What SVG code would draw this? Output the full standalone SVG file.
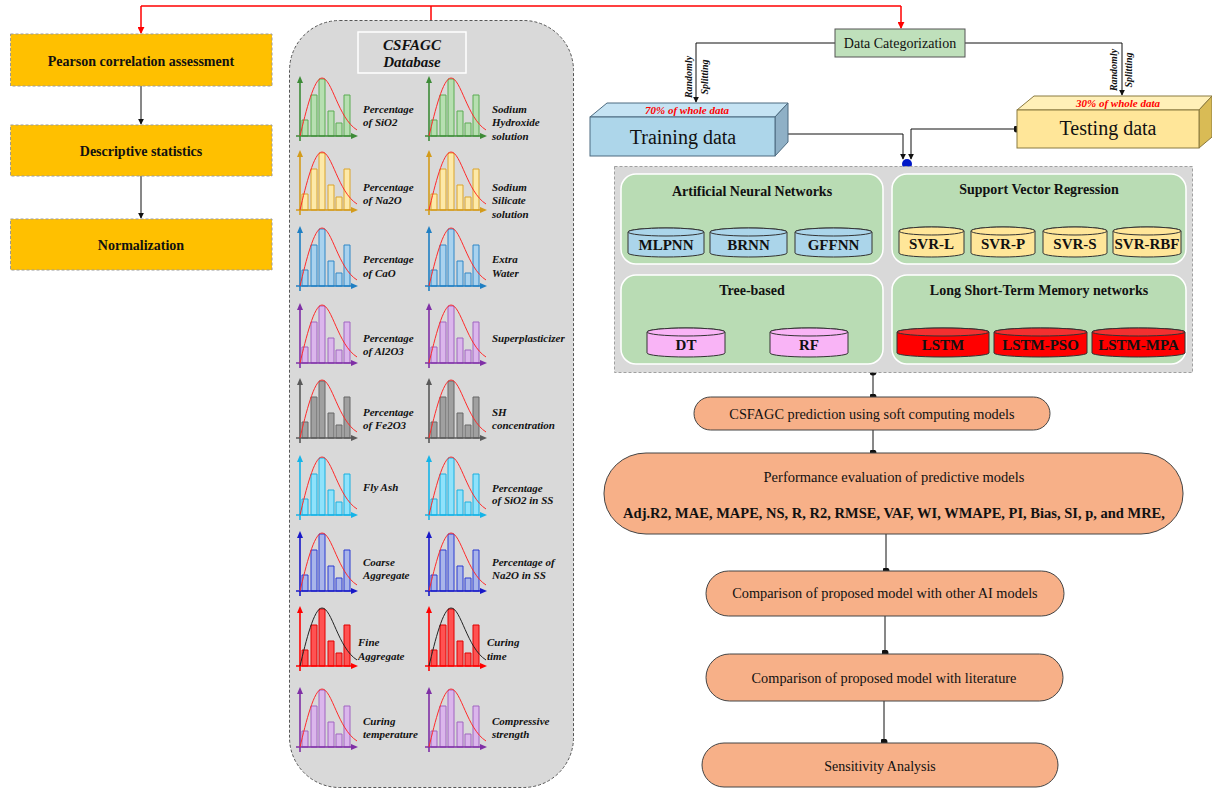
<svg xmlns="http://www.w3.org/2000/svg" xmlns:xlink="http://www.w3.org/1999/xlink" width="1212" height="789" viewBox="0 0 1212 789">
<style>
text{font-family:"Liberation Serif","Times New Roman",serif;fill:#111}
.lbl{font-size:11px;font-weight:bold;font-style:italic}
.bx{fill:#FFC000;stroke:#9a9a9a;stroke-width:1;stroke-dasharray:3,2}
.bxt{font-size:14px;font-weight:bold;text-anchor:middle}
.bars{fill:var(--bf);stroke:var(--bs);stroke-width:1}
.ax{fill:none;stroke:var(--ax);stroke-width:1.6}
.axh{fill:var(--ax)}
.cv{fill:none;stroke:var(--cv,#ff2a2a);stroke-width:1}
.c1{--ax:#3d8b37;--bf:#b7dfb1;--bs:#5aab52}
.c2{--ax:#d39b1b;--bf:#fde9a8;--bs:#dba42a}
.c3{--ax:#1f7fc3;--bf:#a9d2ee;--bs:#2f86c6}
.c4{--ax:#7f2fa6;--bf:#dbb6ec;--bs:#a064c0}
.c5{--ax:#595959;--bf:#a0a0a0;--bs:#666666}
.c6{--ax:#14b4e8;--bf:#8fe2fb;--bs:#18b0e0}
.c7{--ax:#1818c8;--bf:#a9b5ea;--bs:#2a3ad0}
.c8{--ax:#ff0000;--bf:#ff5252;--bs:#e00000;--cv:#222222}
.grp{fill:#b9dcb4;stroke:#ffffff;stroke-width:1.5}
.gt{font-size:14px;font-weight:bold;text-anchor:middle}
.cyl{stroke:#333;stroke-width:1}
.ct{font-size:15px;font-weight:bold;text-anchor:middle}
.pill{fill:#f7b088;stroke:#444;stroke-width:1}
.pt{font-size:14.3px;text-anchor:middle}
.con{fill:none;stroke:#111;stroke-width:1}
.red{fill:none;stroke:#ff0000;stroke-width:1.5}
.rs{font-size:10px;font-weight:bold;font-style:italic;text-anchor:middle}
.pct{font-size:11px;font-weight:bold;font-style:italic;fill:#ff0000;text-anchor:middle}
</style>
<defs>
<marker id="arr" viewBox="0 0 8 8" refX="7" refY="4" markerWidth="6" markerHeight="6" orient="auto" markerUnits="userSpaceOnUse"><path d="M0,0L8,4L0,8Z" fill="#111"/></marker>
<marker id="arrR" viewBox="0 0 8 8" refX="7" refY="4" markerWidth="7" markerHeight="7" orient="auto" markerUnits="userSpaceOnUse"><path d="M0,0L8,4L0,8Z" fill="#ff0000"/></marker>
<marker id="dot" viewBox="0 0 8 8" refX="4" refY="4" markerWidth="7" markerHeight="7" markerUnits="userSpaceOnUse"><circle cx="4" cy="4" r="4" fill="#111"/></marker>
<g id="chart">
<path class="bars" d="M2,0V-16H8V0Z M11,0V-41H17V0Z M19,0V-57H25V0Z M28,0V-25H34V0Z M36,0V-13H42V0Z M44,0V-41H50V0Z"/>
<path class="ax" d="M0,5V-55 M-4,0H54"/>
<polygon class="axh" points="0,-60 -3,-53 3,-53"/>
<polygon class="axh" points="58,0 51,-3 51,3"/>
<path class="cv" d="M0,0 C6,-25 14,-58 22,-58 C32,-58 38,-18 57,-6"/>
</g>
</defs>
<rect width="1212" height="789" fill="#ffffff"/>

<g id="connectors">
<path class="red" d="M141,6 H901"/>
<path class="red" d="M141,6 V33" marker-end="url(#arrR)"/>
<path class="red" d="M901,6 V28" marker-end="url(#arrR)"/>
<path class="red" d="M431,6 V20"/>
<path class="con" d="M141,86 V124" marker-end="url(#arr)"/>
<path class="con" d="M141,176 V218" marker-end="url(#arr)"/>
<path class="con" d="M835,43 H696 V102" marker-end="url(#arr)"/>
<path class="con" d="M965,43 H1122 V95" marker-end="url(#arr)"/>
<path class="con" d="M775,134 H903 V159" marker-start="url(#dot)" marker-end="url(#arr)"/>
<path class="con" d="M1017,129 H911 V159" marker-start="url(#dot)" marker-end="url(#arr)"/>
<circle cx="907" cy="164" r="5" fill="#0018c8"/>
<path class="con" d="M873,372 V397" marker-start="url(#dot)" marker-end="url(#dot)"/>
<path class="con" d="M873,430 V453" marker-end="url(#dot)"/>
<path class="con" d="M886,534 V571" marker-end="url(#dot)"/>
<path class="con" d="M885,616 V653" marker-end="url(#dot)"/>
<path class="con" d="M884,701 V742" marker-end="url(#dot)"/>
</g>

<g id="pearson"><rect class="bx" x="10.5" y="34" width="261.5" height="52"/><text class="bxt" x="141" y="66">Pearson correlation assessment</text></g>
<g id="descriptive"><rect class="bx" x="10.5" y="125" width="261.5" height="51"/><text class="bxt" x="141" y="156">Descriptive statistics</text></g>
<g id="normalization"><rect class="bx" x="10.5" y="219" width="261.5" height="51"/><text class="bxt" x="141" y="250">Normalization</text></g>

<g id="database">
<rect x="289.5" y="20.5" width="284" height="767" rx="50" ry="50" fill="#d9d9d9" stroke="#555" stroke-width="1" stroke-dasharray="3,2"/>
<rect x="358" y="32" width="108" height="41" fill="none" stroke="#ffffff" stroke-width="1.5"/>
<text x="412" y="50" font-size="15" font-weight="bold" font-style="italic" text-anchor="middle">CSFAGC</text>
<text x="412" y="67" font-size="15" font-weight="bold" font-style="italic" text-anchor="middle">Database</text>
</g>

<g id="chart-sio2"><use href="#chart" class="c1" x="300" y="136"/><text class="lbl"><tspan x="363" y="113">Percentage</tspan><tspan x="363" y="126">of SiO2</tspan></text></g>
<g id="chart-naoh"><use href="#chart" class="c1" x="429" y="136"/><text class="lbl"><tspan x="492" y="113">Sodium</tspan><tspan x="492" y="126">Hydroxide</tspan><tspan x="492" y="140">solution</tspan></text></g>
<g id="chart-na2o"><use href="#chart" class="c2" x="300" y="210"/><text class="lbl"><tspan x="363" y="191">Percentage</tspan><tspan x="363" y="204">of Na2O</tspan></text></g>
<g id="chart-ss"><use href="#chart" class="c2" x="429" y="210"/><text class="lbl"><tspan x="492" y="191">Sodium</tspan><tspan x="492" y="204">Silicate</tspan><tspan x="492" y="218">solution</tspan></text></g>
<g id="chart-cao"><use href="#chart" class="c3" x="300" y="286"/><text class="lbl"><tspan x="363" y="263">Percentage</tspan><tspan x="363" y="277">of CaO</tspan></text></g>
<g id="chart-water"><use href="#chart" class="c3" x="429" y="286"/><text class="lbl"><tspan x="492" y="263">Extra</tspan><tspan x="492" y="277">Water</tspan></text></g>
<g id="chart-al2o3"><use href="#chart" class="c4" x="300" y="363"/><text class="lbl"><tspan x="363" y="342">Percentage</tspan><tspan x="363" y="355">of Al2O3</tspan></text></g>
<g id="chart-sp"><use href="#chart" class="c4" x="429" y="363"/><text class="lbl"><tspan x="492" y="342">Superplasticizer</tspan></text></g>
<g id="chart-fe2o3"><use href="#chart" class="c5" x="300" y="438"/><text class="lbl"><tspan x="363" y="416">Percentage</tspan><tspan x="363" y="429">of Fe2O3</tspan></text></g>
<g id="chart-sh"><use href="#chart" class="c5" x="429" y="438"/><text class="lbl"><tspan x="492" y="416">SH</tspan><tspan x="492" y="429">concentration</tspan></text></g>
<g id="chart-flyash"><use href="#chart" class="c6" x="300" y="515"/><text class="lbl"><tspan x="363" y="491">Fly Ash</tspan></text></g>
<g id="chart-sio2ss"><use href="#chart" class="c6" x="429" y="515"/><text class="lbl"><tspan x="492" y="492">Percentage</tspan><tspan x="492" y="504">of SiO2 in SS</tspan></text></g>
<g id="chart-coarse"><use href="#chart" class="c7" x="300" y="591"/><text class="lbl"><tspan x="363" y="566">Coarse</tspan><tspan x="363" y="579">Aggregate</tspan></text></g>
<g id="chart-na2oss"><use href="#chart" class="c7" x="429" y="591"/><text class="lbl"><tspan x="492" y="566">Percentage of</tspan><tspan x="492" y="579">Na2O in SS</tspan></text></g>
<g id="chart-fine"><use href="#chart" class="c8" x="300" y="666"/><text class="lbl"><tspan x="358" y="646">Fine</tspan><tspan x="358" y="660">Aggregate</tspan></text></g>
<g id="chart-time"><use href="#chart" class="c8" x="429" y="666"/><text class="lbl"><tspan x="487" y="646">Curing</tspan><tspan x="487" y="660">time</tspan></text></g>
<g id="chart-temp"><use href="#chart" class="c4" x="300" y="747"/><text class="lbl"><tspan x="363" y="725">Curing</tspan><tspan x="363" y="738">temperature</tspan></text></g>
<g id="chart-cs"><use href="#chart" class="c4" x="429" y="747"/><text class="lbl"><tspan x="492" y="725">Compressive</tspan><tspan x="492" y="738">strength</tspan></text></g>

<g id="data-categorization"><rect x="835" y="29" width="130" height="28" fill="#bfe0bb" stroke="#555" stroke-width="1"/><text x="900" y="48" font-size="14" text-anchor="middle">Data Categorization</text></g>
<g id="split-left"><text class="rs" transform="translate(692,77) rotate(-90)"><tspan x="0" y="0">Randomly</tspan><tspan x="0" y="16">Splitting</tspan></text></g>
<g id="split-right"><text class="rs" transform="translate(1117,70) rotate(-90)"><tspan x="0" y="0">Randomly</tspan><tspan x="0" y="15">Splitting</tspan></text></g>

<g id="training">
<polygon points="590,117 607,103 788,103 775,117" fill="#c5e3f3" stroke="#4d6b80" stroke-width="1"/>
<polygon points="775,117 788,103 788,142 775,156" fill="#8fb0c6" stroke="#4d6b80" stroke-width="1"/>
<rect x="590" y="117" width="185" height="39" fill="#add6ea" stroke="#4d6b80" stroke-width="1"/>
<text class="pct" x="687" y="114">70% of whole data</text>
<text x="683" y="144" font-size="20" text-anchor="middle">Training data</text>
</g>
<g id="testing">
<polygon points="1017,110 1034,96 1212,96 1199,110" fill="#fff0b8" stroke="#8a7a40" stroke-width="1"/>
<polygon points="1199,110 1212,96 1212,137 1199,148" fill="#d9bb55" stroke="#8a7a40" stroke-width="1"/>
<rect x="1017" y="110" width="182" height="38" fill="#ffe699" stroke="#8a7a40" stroke-width="1"/>
<text class="pct" x="1118" y="107">30% of whole data</text>
<text x="1108" y="135" font-size="20" text-anchor="middle">Testing data</text>
</g>

<g id="models">
<rect x="614.5" y="166.5" width="578" height="206" fill="#d9d9d9" stroke="#a0a0a0" stroke-width="1" stroke-dasharray="3,2"/>
</g>
<g id="ann">
<rect class="grp" x="621" y="174" width="262" height="90" rx="15"/>
<text class="gt" x="752" y="196">Artificial Neural Networks</text>
<g fill="#abd5ea"><path class="cyl" d="M628,232 A38,4 0 0 1 704,232 V253 A38,4 0 0 1 628,253 Z"/><ellipse class="cyl" cx="666" cy="232" rx="38" ry="4"/>
<path class="cyl" d="M710,232 A38.5,4 0 0 1 787,232 V253 A38.5,4 0 0 1 710,253 Z"/><ellipse class="cyl" cx="748.5" cy="232" rx="38.5" ry="4"/>
<path class="cyl" d="M795,232 A38.5,4 0 0 1 872,232 V253 A38.5,4 0 0 1 795,253 Z"/><ellipse class="cyl" cx="833.5" cy="232" rx="38.5" ry="4"/></g>
<text class="ct" x="666" y="250">MLPNN</text><text class="ct" x="748.5" y="250">BRNN</text><text class="ct" x="833.5" y="250">GFFNN</text>
</g>
<g id="svr">
<rect class="grp" x="892" y="174" width="294" height="90" rx="15"/>
<text class="gt" x="1039" y="194">Support Vector Regression</text>
<g fill="#ffe699"><path class="cyl" d="M899,231 A32.5,4 0 0 1 964,231 V253 A32.5,4 0 0 1 899,253 Z"/><ellipse class="cyl" cx="931.5" cy="231" rx="32.5" ry="4"/>
<path class="cyl" d="M971,231 A32,4 0 0 1 1035,231 V253 A32,4 0 0 1 971,253 Z"/><ellipse class="cyl" cx="1003" cy="231" rx="32" ry="4"/>
<path class="cyl" d="M1043,231 A32,4 0 0 1 1107,231 V253 A32,4 0 0 1 1043,253 Z"/><ellipse class="cyl" cx="1075" cy="231" rx="32" ry="4"/>
<path class="cyl" d="M1113,231 A34,4 0 0 1 1181,231 V253 A34,4 0 0 1 1113,253 Z"/><ellipse class="cyl" cx="1147" cy="231" rx="34" ry="4"/></g>
<text class="ct" x="931.5" y="249">SVR-L</text><text class="ct" x="1003" y="249">SVR-P</text><text class="ct" x="1075" y="249">SVR-S</text><text class="ct" x="1147" y="249">SVR-RBF</text>
</g>
<g id="tree">
<rect class="grp" x="621" y="275" width="262" height="89" rx="15"/>
<text class="gt" x="752" y="295">Tree-based</text>
<g fill="#f9b4f6"><path class="cyl" d="M647,332 A39,4 0 0 1 725,332 V353 A39,4 0 0 1 647,353 Z"/><ellipse class="cyl" cx="686" cy="332" rx="39" ry="4"/>
<path class="cyl" d="M770,332 A39,4 0 0 1 848,332 V353 A39,4 0 0 1 770,353 Z"/><ellipse class="cyl" cx="809" cy="332" rx="39" ry="4"/></g>
<text class="ct" x="686" y="350">DT</text><text class="ct" x="809" y="350">RF</text>
</g>
<g id="lstm">
<rect class="grp" x="892" y="275" width="294" height="89" rx="15"/>
<text class="gt" x="1039" y="295">Long Short-Term Memory networks</text>
<g fill="#ff0000"><path class="cyl" d="M897,332 A46,4 0 0 1 989,332 V353 A46,4 0 0 1 897,353 Z"/><ellipse class="cyl" cx="943" cy="332" rx="46" ry="4" fill="#f23030"/>
<path class="cyl" d="M994,332 A46.5,4 0 0 1 1087,332 V353 A46.5,4 0 0 1 994,353 Z"/><ellipse class="cyl" cx="1040.5" cy="332" rx="46.5" ry="4" fill="#f23030"/>
<path class="cyl" d="M1092,332 A46.5,4 0 0 1 1185,332 V353 A46.5,4 0 0 1 1092,353 Z"/><ellipse class="cyl" cx="1138.5" cy="332" rx="46.5" ry="4" fill="#f23030"/></g>
<text class="ct" x="943" y="350">LSTM</text><text class="ct" x="1040.5" y="350">LSTM-PSO</text><text class="ct" x="1138.5" y="350">LSTM-MPA</text>
</g>

<g id="prediction"><rect class="pill" x="694" y="397" width="356" height="33" rx="16.5"/><text class="pt" x="872" y="419">CSFAGC prediction using soft computing models</text></g>
<g id="performance"><rect class="pill" x="604" y="453" width="579" height="81" rx="42" ry="40"/><text class="pt" x="894" y="482" style="font-size:14.5px">Performance evaluation of predictive models</text><text x="894" y="518" font-size="14.5" font-weight="bold" text-anchor="middle">Adj.R2, MAE, MAPE, NS, R, R2, RMSE, VAF, WI, WMAPE, PI, Bias, SI, p, and MRE,</text></g>
<g id="comparison-ai"><rect class="pill" x="706" y="571" width="358" height="45" rx="22.5"/><text class="pt" x="885" y="598">Comparison of proposed model with other AI models</text></g>
<g id="comparison-lit"><rect class="pill" x="706" y="654" width="357" height="47" rx="23.5"/><text class="pt" x="884" y="683">Comparison of proposed model with literature</text></g>
<g id="sensitivity"><rect class="pill" x="702" y="743" width="356" height="44" rx="22"/><text class="pt" x="880" y="771" style="font-size:14px">Sensitivity Analysis</text></g>
</svg>
